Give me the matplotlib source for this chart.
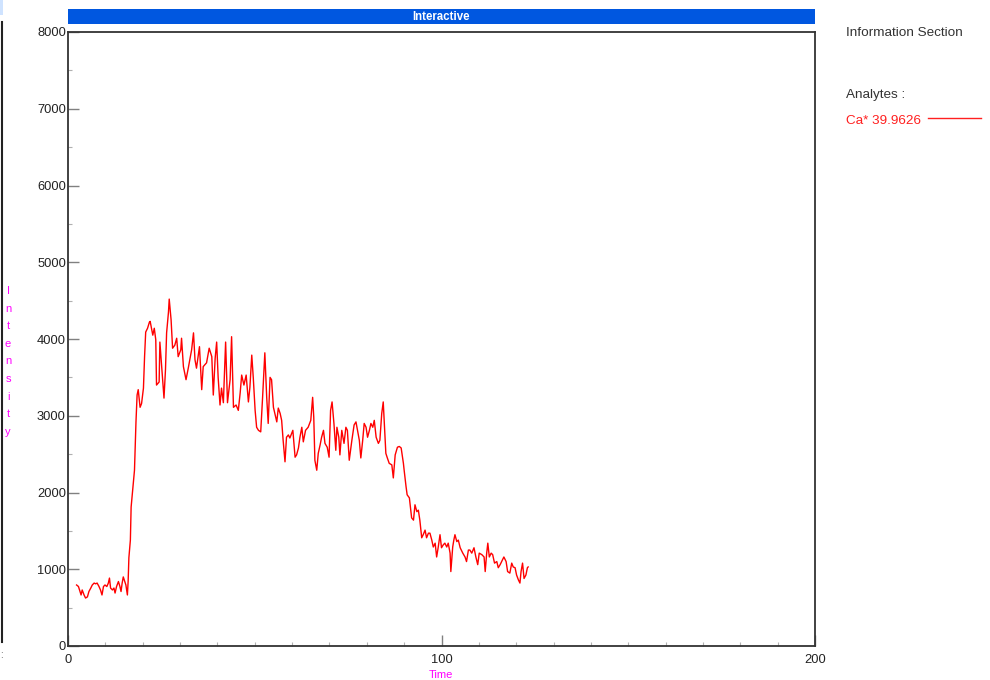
import matplotlib
matplotlib.use("Agg")
import matplotlib.pyplot as plt
from matplotlib.lines import Line2D
from matplotlib.patches import Rectangle

plt.rcParams['font.family'] = ['Liberation Sans', 'DejaVu Sans']

# Ca* 39.9626 signal trace
time_s = [
    2.3, 2.8, 3.2, 3.5, 3.8, 4.3, 4.7, 5.2, 5.6, 6.1, 6.5, 7.0, 7.4, 7.8, 8.3,
    8.7, 9.1, 9.5, 9.9, 10.4, 10.8, 11.1, 11.4, 11.9, 12.3, 12.6, 13.0, 13.5,
    13.9, 14.2, 14.5, 14.8, 15.2, 15.5, 15.9, 16.1, 16.3, 16.7, 16.9, 17.3,
    17.8, 18.2, 18.5, 18.8, 19.3, 19.7, 20.2, 20.5, 20.8, 21.3, 21.8, 22.0,
    22.7, 23.1, 23.5, 23.7, 24.4, 24.6, 25.1, 25.7, 26.1, 26.4, 26.9, 27.1,
    27.6, 28.0, 28.6, 29.1, 29.5, 30.2, 30.4, 30.9, 31.6, 32.2, 33.1, 33.6,
    34.0, 34.4, 35.2, 35.8, 36.2, 37.1, 37.8, 38.5, 38.9, 39.4, 39.8, 40.2,
    40.7, 41.1, 41.6, 42.2, 42.7, 43.4, 43.8, 44.3, 45.0, 45.6, 46.1, 46.5,
    47.1, 47.7, 48.3, 48.7, 49.2, 49.6, 50.1, 50.5, 51.0, 51.6, 52.1, 52.7,
    53.2, 53.6, 54.1, 54.5, 55.0, 55.9, 56.3, 56.8, 57.2, 57.6, 58.1, 58.5,
    59.0, 59.4, 60.2, 60.8, 61.2, 61.7, 62.1, 62.6, 63.0, 63.6, 64.3, 65.0,
    65.5, 65.8, 66.1, 66.6, 67.0, 67.5, 67.9, 68.4, 68.8, 69.4, 69.9, 70.3,
    70.7, 71.2, 71.7, 72.0, 72.5, 72.8, 73.3, 73.9, 74.4, 74.8, 75.3, 76.0,
    76.6, 77.1, 77.5, 78.0, 78.4, 78.9, 79.3, 79.8, 80.2, 80.7, 81.1, 81.6,
    82.0, 82.5, 83.1, 83.5, 84.0, 84.4, 84.7, 85.1, 85.5, 86.0, 86.7, 87.1,
    87.6, 88.2, 88.7, 89.2, 89.8, 90.0, 90.5, 90.8, 91.4, 92.0, 92.5, 92.9,
    93.4, 93.8, 94.2, 94.7, 95.1, 95.6, 96.0, 96.5, 96.9, 97.4, 97.8, 98.3,
    98.7, 99.1, 99.6, 100.0, 100.5, 100.9, 101.4, 101.8, 102.3, 102.5, 103.0,
    103.3, 103.6, 104.1, 104.5, 105.0, 105.7, 106.3, 106.7, 107.2, 107.6,
    108.1, 108.7, 109.2, 109.7, 110.1, 110.8, 111.4, 111.7, 112.1, 112.4,
    112.8, 113.3, 113.7, 114.2, 114.8, 115.2, 115.7, 116.1, 116.7, 117.3,
    117.7, 118.3, 118.8, 119.2, 119.7, 120.1, 120.6, 121.0, 121.3, 121.7,
    122.1, 122.6, 123.0, 123.2,
]
intensity = [
    795, 775, 710, 665, 730, 665, 625, 640, 710, 755, 795, 820, 810, 820, 775,
    730, 665, 775, 795, 775, 820, 885, 755, 730, 755, 690, 775, 840,
    775, 710, 820, 900, 840, 795, 665, 840, 1150, 1380, 1810, 2030,
    2290, 2920, 3270, 3340, 3110, 3160, 3360, 3770, 4090, 4140, 4220, 4230,
    4050, 4140, 3990, 3400, 3440, 3960, 3620, 3230, 3600, 4080, 4350, 4520,
    4250, 3880, 3920, 4010, 3770, 3860, 4010, 3640, 3470, 3620, 3860, 4080,
    3730, 3620, 3900, 3340, 3640, 3690, 3880, 3770, 3270, 3750, 3960, 3500,
    3140, 3360, 3170, 3960, 3170, 3470, 4030, 3110, 3140, 3070, 3300, 3530,
    3400, 3530, 3180, 3370, 3790, 3500, 3070, 2850, 2810, 2790, 3240, 3820,
    3240, 2900, 3500, 3470, 3110, 2920, 3100, 3030, 2940, 2680, 2400, 2720,
    2750, 2710, 2810, 2460, 2490, 2580, 2720, 2850, 2660, 2810, 2850, 2940,
    3240, 2980, 2420, 2290, 2510, 2620, 2720, 2810, 2640, 2590, 2460, 3070,
    3180, 2900, 2550, 2850, 2720, 2490, 2810, 2640, 2850, 2810, 2420, 2680,
    2880, 2920, 2810, 2680, 2450, 2680, 2900, 2850, 2720, 2810, 2900, 2850,
    2940, 2720, 2640, 2680, 3030, 3180, 2900, 2510, 2450, 2380, 2360, 2190,
    2490, 2590, 2600, 2580, 2380, 2290, 2080, 1970, 1930, 1670, 1640, 1840,
    1750, 1770, 1640, 1410, 1450, 1510, 1410, 1470, 1470, 1380, 1290, 1340,
    1160, 1280, 1450, 1280, 1320, 1340, 1290, 1340, 1210, 970, 1290,
    1380, 1450, 1360, 1380, 1280, 1210, 1160, 1100, 1250, 1250,
    1210, 1280, 1160, 1060, 1210, 1190, 1160, 970, 1210, 1340,
    1160, 1210, 1190, 1080, 1100, 1020, 1060, 1100, 1160, 1100,
    970, 950, 1080, 1030, 1020, 925, 860, 820, 970, 1080,
    880, 925, 1020, 1030,
]

x_ticks = [0, 100, 200]
y_ticks = [0, 1000, 2000, 3000, 4000, 5000, 6000, 7000, 8000]
analyte_label = "Ca* 39.9626"

fig = plt.figure(figsize=(9.9, 6.8), dpi=100)
fig.patch.set_facecolor("white")

W, H = 990.0, 680.0
def fx(px):
    return px / W
def fy(py):
    return 1 - py / H

ax = fig.add_axes([fx(68), fy(646), fx(815) - fx(68), fy(32) - fy(646)])
ax.plot(time_s, intensity, color="#ff0000", lw=1.0)
ax.set_xlim(0, 200)
ax.set_ylim(0, 8000)
ax.set_xticks(x_ticks)
ax.set_yticks(y_ticks)
ax.set_xticks(range(0, 201, 10), minor=True)
ax.set_yticks(range(0, 8001, 500), minor=True)
ax.tick_params(which="major", direction="in", length=8, width=1.0,
               color="#808080", labelsize=9.3, labelcolor="#222222")
ax.tick_params(which="minor", direction="in", length=3, width=0.8,
               color="#b0b0b0")
ax.tick_params(axis="y", which="major", pad=1.5)
ax.tick_params(axis="x", which="major", pad=6)
for sp in ax.spines.values():
    sp.set_color("#333333")
    sp.set_linewidth(1.3)

# title strip
fig.patches.append(Rectangle((fx(68), fy(24)), fx(815) - fx(68), fy(9) - fy(24),
                             transform=fig.transFigure, facecolor="#0057e0",
                             edgecolor="none"))
fig.text(fx(441), fy(16.5), "Interactive", color="white", fontsize=8.3,
         fontweight="bold", ha="center", va="center")

# axis titles
fig.text(fx(441), fy(674.5), "Time", color="#ff00ff", fontsize=8,
         ha="center", va="center")
for i, ch in enumerate("Intensity"):
    fig.text(fx(8), fy(291 + i * 17.6), ch, color="#ff00ff", fontsize=8,
             ha="center", va="center")

# left window edge
fig.lines.append(Line2D([fx(1.5), fx(1.5)], [fy(22), fy(642)],
                        transform=fig.transFigure, color="#222222", lw=1.5))
fig.patches.append(Rectangle((0, fy(15)), fx(3), fy(0) - fy(15),
                             transform=fig.transFigure, facecolor="#cfe3ff",
                             edgecolor="none"))
fig.text(fx(1), fy(655), ":", color="#555555", fontsize=7,
         ha="center", va="center")

# information panel
fig.text(fx(846), fy(33), "Information Section", color="#333333", fontsize=9.7,
         ha="left", va="center")
fig.text(fx(846), fy(95), "Analytes :", color="#333333", fontsize=9.7,
         ha="left", va="center")
fig.text(fx(846), fy(121), analyte_label, color="#ff2020", fontsize=9.7,
         ha="left", va="center")
fig.lines.append(Line2D([fx(928), fx(981)], [fy(118), fy(118)],
                        transform=fig.transFigure, color="#ff2020", lw=1.0))

fig.savefig("out.png", dpi=100)
